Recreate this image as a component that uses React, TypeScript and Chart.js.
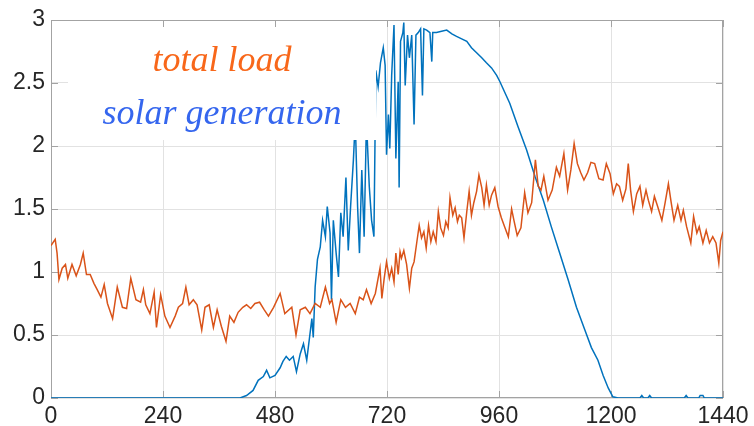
import React, { useEffect, useRef } from 'react';
import { Chart, registerables } from 'chart.js';

Chart.register(...registerables);

const xTickValues = [0, 240, 480, 720, 960, 1200, 1440];
const yTickValues = [0, 0.5, 1, 1.5, 2, 2.5, 3];

const loadMinutes = [
  0, 9, 13, 17, 24, 31, 36, 45, 54, 63,
  69, 76, 84, 92, 99, 107, 114, 121, 132, 142,
  153, 162, 171, 182, 192, 198, 203, 212, 221, 226,
  235, 244, 255, 266, 273, 282, 289, 296, 305, 313,
  323, 330, 339, 348, 356, 365, 375, 383, 392, 401,
  411, 419, 428, 437, 447, 457, 466, 477, 491, 501,
  516, 525, 534, 545, 555, 566, 577, 588, 597, 602,
  611, 621, 631, 641, 652, 661, 669, 676, 686, 695,
  705, 709, 714, 719, 725, 730, 735, 739, 744, 748,
  751, 756, 762, 768, 773, 778, 784, 789, 794, 799,
  804, 809, 814, 819, 825, 830, 835, 841, 846, 851,
  855, 861, 866, 871, 875, 880, 885, 891, 896, 901,
  906, 912, 917, 923, 928, 933, 939, 944, 951, 958,
  965, 972, 980, 987, 992, 999, 1007, 1015, 1022, 1030,
  1038, 1044, 1050, 1056, 1065, 1074, 1083, 1090, 1099, 1107,
  1114, 1121, 1128, 1135, 1142, 1150, 1157, 1165, 1174, 1183,
  1190, 1198, 1205, 1212, 1218, 1225, 1232, 1237, 1242, 1248,
  1255, 1262, 1268, 1275, 1280, 1287, 1293, 1300, 1309, 1316,
  1323, 1329, 1335, 1343, 1350, 1355, 1362, 1371, 1377, 1384,
  1389, 1397, 1404, 1411, 1418, 1425, 1431, 1435, 1440,
];

const loadValues = [
  1.21, 1.26, 1.15, 0.94, 1.03, 1.06, 0.95, 1.06, 0.97, 1.06,
  1.15, 0.98, 0.98, 0.91, 0.86, 0.80, 0.90, 0.75, 0.63, 0.88,
  0.72, 0.71, 0.95, 0.78, 0.76, 0.86, 0.74, 0.67, 0.84, 0.56,
  0.82, 0.65, 0.56, 0.65, 0.72, 0.75, 0.88, 0.74, 0.78, 0.74,
  0.54, 0.72, 0.74, 0.56, 0.70, 0.57, 0.45, 0.65, 0.60, 0.68,
  0.72, 0.74, 0.71, 0.75, 0.76, 0.70, 0.65, 0.72, 0.83, 0.67,
  0.72, 0.50, 0.70, 0.72, 0.67, 0.75, 0.72, 0.88, 0.75, 0.78,
  0.60, 0.78, 0.72, 0.75, 0.67, 0.80, 0.78, 0.86, 0.75, 0.83,
  1.03, 0.79, 0.95, 1.08, 0.95, 1.03, 0.92, 1.15, 0.98, 1.16,
  1.11, 1.17, 1.06, 0.87, 1.03, 1.08, 1.24, 1.37, 1.27, 1.32,
  1.19, 1.37, 1.24, 1.32, 1.24, 1.48, 1.35, 1.29, 1.40, 1.35,
  1.59, 1.45, 1.51, 1.40, 1.45, 1.43, 1.27, 1.48, 1.64, 1.45,
  1.55, 1.64, 1.77, 1.67, 1.53, 1.69, 1.53, 1.61, 1.67, 1.52,
  1.43, 1.36, 1.28, 1.50, 1.41, 1.29, 1.35, 1.63, 1.47, 1.55,
  1.89, 1.68, 1.65, 1.76, 1.57, 1.65, 1.83, 1.76, 1.94, 1.65,
  1.81, 2.02, 1.86, 1.79, 1.73, 1.79, 1.87, 1.86, 1.74, 1.73,
  1.86, 1.78, 1.62, 1.70, 1.68, 1.57, 1.66, 1.86, 1.65, 1.48,
  1.62, 1.68, 1.53, 1.65, 1.57, 1.48, 1.60, 1.52, 1.41, 1.55,
  1.70, 1.55, 1.41, 1.53, 1.41, 1.49, 1.36, 1.23, 1.44, 1.31,
  1.36, 1.23, 1.33, 1.23, 1.28, 1.23, 1.07, 1.25, 1.32,
];

const solarMinutes = [
  0, 405, 419, 433, 444, 455, 462, 469, 480, 491,
  497, 504, 511, 519, 526, 534, 541, 548, 554, 559,
  562, 566, 571, 577, 582, 588, 592, 598, 601, 605,
  611, 616, 621, 626, 632, 637, 642, 648, 652, 657,
  661, 666, 671, 676, 682, 687, 692, 696, 701, 706,
  712, 716, 719, 723, 726, 730, 735, 739, 744, 746,
  749, 754, 756, 759, 764, 768, 773, 778, 782, 787,
  792, 796, 799, 805, 812, 816, 818, 826, 837, 848,
  859, 869, 880, 891, 901, 912, 923, 933, 944, 955,
  962, 983, 1001, 1019, 1037, 1055, 1072, 1090, 1108, 1126,
  1144, 1158, 1172, 1183, 1194, 1204, 1215, 1262, 1266, 1270,
  1279, 1283, 1287, 1357, 1361, 1365, 1388, 1391, 1397, 1400,
  1440,
];

const solarValues = [
  0, 0, 0.02, 0.06, 0.14, 0.17, 0.22, 0.16, 0.18, 0.24,
  0.29, 0.33, 0.30, 0.33, 0.21, 0.35, 0.43, 0.30, 0.48, 0.63,
  0.48, 0.88, 1.10, 1.20, 1.41, 1.28, 1.52, 1.31, 0.78, 1.41,
  1.15, 0.96, 1.47, 1.28, 1.75, 1.17, 1.52, 1.89, 2.20, 1.52,
  1.15, 1.81, 1.28, 2.20, 1.68, 1.41, 1.28, 2.60, 2.47, 2.66,
  2.78, 2.64, 1.93, 2.25, 1.98, 2.56, 2.96, 1.90, 2.51, 1.67,
  2.83, 2.90, 2.98, 2.48, 2.88, 2.70, 2.88, 2.17, 2.88, 2.90,
  2.93, 2.40, 2.93, 2.92, 2.90, 2.67, 2.90, 2.90, 2.91, 2.92,
  2.89, 2.87, 2.85, 2.83, 2.78, 2.74, 2.70, 2.66, 2.62, 2.56,
  2.51, 2.34, 2.15, 1.97, 1.76, 1.57, 1.36, 1.15, 0.94, 0.72,
  0.54, 0.40, 0.30, 0.18, 0.08, 0.01, 0, 0, 0.02, 0,
  0, 0.02, 0, 0, 0.02, 0, 0, 0.02, 0.02, 0,
  0,
];

const LOAD_COLOR = '#D95319';
const SOLAR_COLOR = '#0072BD';
const AXIS_GRAY = '#a3a3a3';
const GRID_GRAY = '#e2e2e2';
const TICK_TEXT = '#262626';
const TICK_FONT = { family: "'Liberation Sans', Arial, sans-serif", size: 23 };

export default function App() {
  const ref = useRef<HTMLCanvasElement | null>(null);

  useEffect(() => {
    const canvas = ref.current;
    if (!canvas) return;

    const framePlugin = {
      id: 'matlabFrame',
      beforeDatasetsDraw(chart: any) {
        const { ctx, chartArea: a, scales } = chart;
        ctx.save();
        ctx.strokeStyle = AXIS_GRAY;
        ctx.lineWidth = 1;
        ctx.strokeRect(a.left + 0.5, a.top + 0.5, a.right - a.left - 1, a.bottom - a.top - 1);
        const tl = 7;
        ctx.beginPath();
        xTickValues.forEach((v) => {
          const px = Math.round(scales.x.getPixelForValue(v)) + 0.5;
          ctx.moveTo(px, a.bottom);
          ctx.lineTo(px, a.bottom - tl);
          ctx.moveTo(px, a.top);
          ctx.lineTo(px, a.top + tl);
        });
        yTickValues.forEach((v) => {
          const py = Math.round(scales.y.getPixelForValue(v)) + 0.5;
          ctx.moveTo(a.left, py);
          ctx.lineTo(a.left + tl, py);
          ctx.moveTo(a.right, py);
          ctx.lineTo(a.right - tl, py);
        });
        ctx.stroke();
        ctx.restore();
      },
      afterDatasetsDraw(chart: any) {
        const { ctx } = chart;
        ctx.save();
        ctx.fillStyle = '#ffffff';
        ctx.fillRect(68, 27, 308, 113);
        ctx.font = "italic 36px 'Liberation Serif', 'Times New Roman', serif";
        ctx.textAlign = 'center';
        ctx.textBaseline = 'alphabetic';
        ctx.fillStyle = '#F8671A';
        ctx.fillText('total load', 222, 71);
        ctx.fillStyle = '#3566EE';
        ctx.fillText('solar generation', 222, 124);
        ctx.restore();
      },
    };

    const chart = new Chart(canvas, {
      type: 'line',
      data: {
        datasets: [
          {
            label: 'total load',
            data: loadMinutes.map((x, i) => ({ x, y: loadValues[i] })),
            borderColor: LOAD_COLOR,
            backgroundColor: LOAD_COLOR,
            borderWidth: 1.5,
            pointRadius: 0,
            tension: 0,
            fill: false,
          },
          {
            label: 'solar generation',
            data: solarMinutes.map((x, i) => ({ x, y: solarValues[i] })),
            borderColor: SOLAR_COLOR,
            backgroundColor: SOLAR_COLOR,
            borderWidth: 1.5,
            pointRadius: 0,
            tension: 0,
            fill: false,
          },
        ],
      },
      options: {
        animation: false,
        responsive: false,
        devicePixelRatio: 1,
        layout: { padding: { left: 0, right: 31, top: 20, bottom: 0 } },
        plugins: {
          legend: { display: false },
          tooltip: { enabled: false },
        },
        scales: {
          x: {
            type: 'linear',
            min: 0,
            max: 1440,
            afterBuildTicks: (s: any) => {
              s.ticks = xTickValues.map((value) => ({ value }));
            },
            afterFit: (s: any) => {
              s.height = 28;
            },
            grid: { color: GRID_GRAY, drawTicks: false },
            border: { display: false },
            ticks: {
              padding: 5,
              color: TICK_TEXT,
              font: TICK_FONT,
              maxRotation: 0,
              autoSkip: false,
              callback: (v: any) => String(v),
            },
          },
          y: {
            type: 'linear',
            min: 0,
            max: 3,
            afterBuildTicks: (s: any) => {
              s.ticks = yTickValues.map((value) => ({ value }));
            },
            afterFit: (s: any) => {
              s.width = 51;
            },
            grid: { color: GRID_GRAY, drawTicks: false },
            border: { display: false },
            ticks: {
              padding: 6,
              color: TICK_TEXT,
              font: TICK_FONT,
              autoSkip: false,
              callback: (v: any) => String(v),
            },
          },
        },
      },
      plugins: [framePlugin],
    } as any);

    return () => chart.destroy();
  }, []);

  return (
    <div style={{ position: 'absolute', left: 0, top: 0, width: 754, height: 426 }}>
      <canvas ref={ref} width={754} height={426} style={{ display: 'block' }} />
    </div>
  );
}
